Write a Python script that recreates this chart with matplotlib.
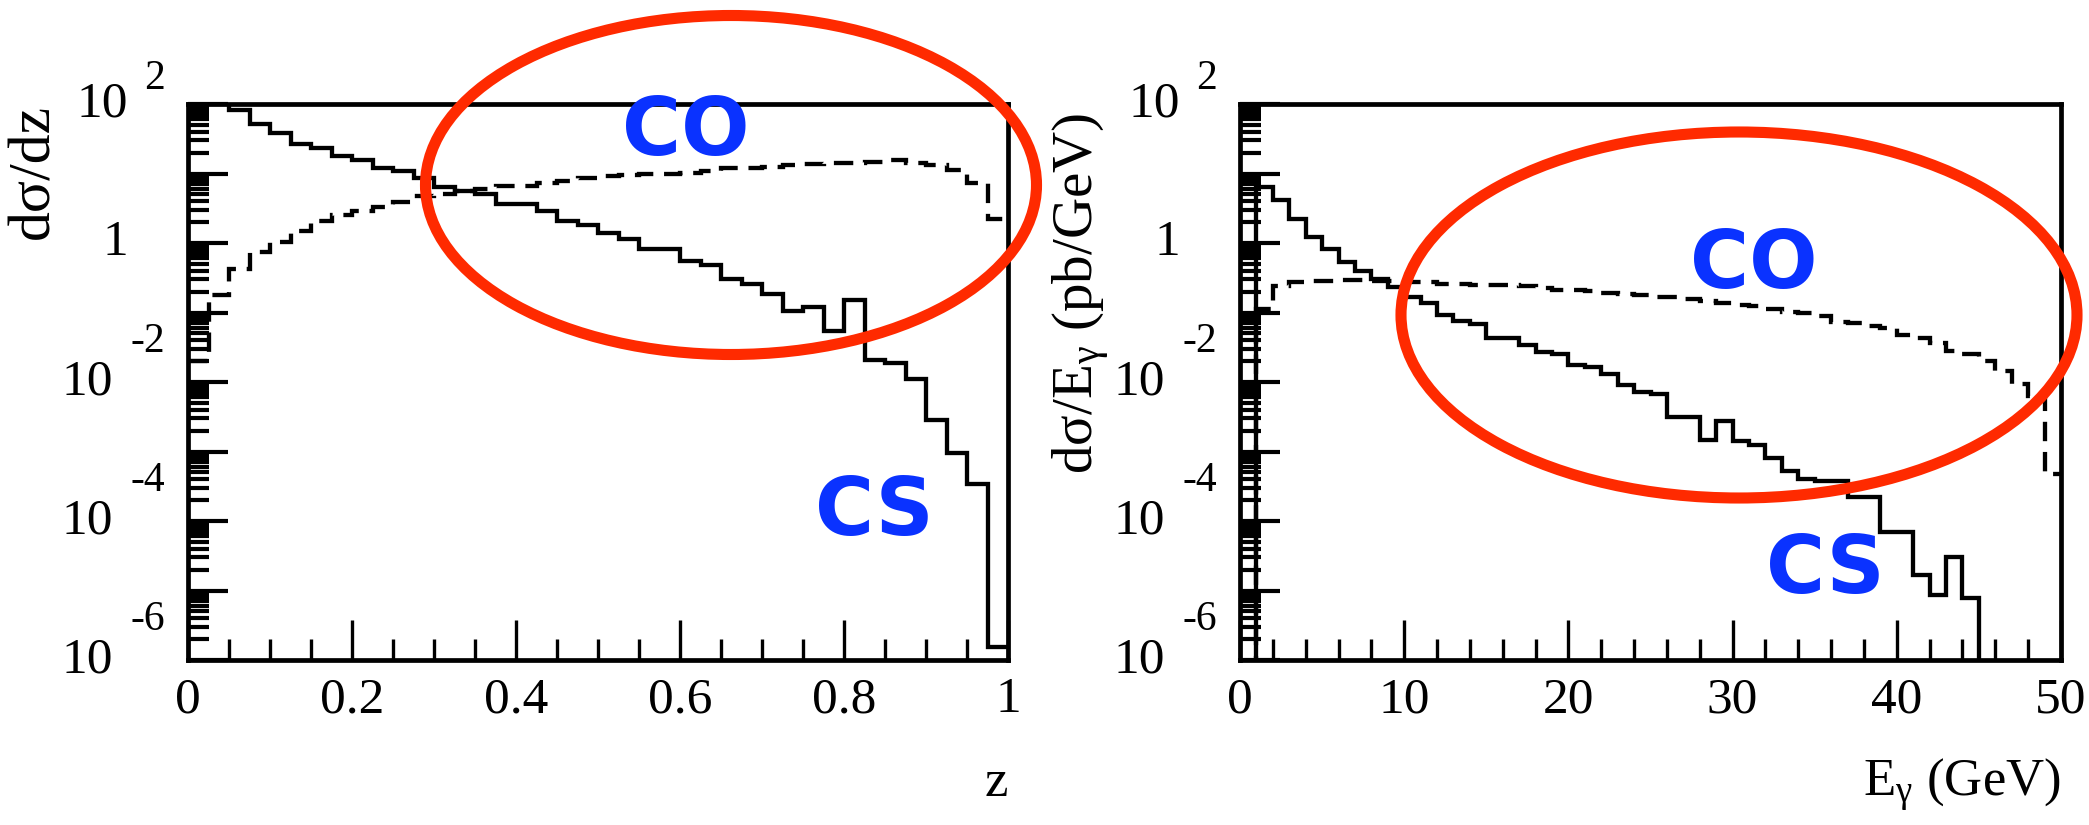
import numpy as np
import matplotlib
matplotlib.use("Agg")
import matplotlib.pyplot as plt
from matplotlib.patches import Ellipse
from matplotlib.ticker import LogLocator, MultipleLocator, NullFormatter, FixedLocator
from matplotlib.transforms import offset_copy

plt.rcParams['font.family'] = ['Liberation Serif', 'DejaVu Serif']
plt.rcParams['mathtext.fontset'] = 'custom'
plt.rcParams['mathtext.rm'] = 'Liberation Serif'
plt.rcParams['mathtext.it'] = 'Liberation Serif'

# left panel: d(sigma)/dz, 40 bins of 0.025 in z, values read as log10
z_edges = np.linspace(0, 1, 41)
cs_z = [2.3, 2.1, 1.92, 1.71, 1.585, 1.43, 1.36, 1.255, 1.19, 1.08,
        1.03, 0.935, 0.80, 0.75, 0.70, 0.555, 0.555, 0.46, 0.31, 0.255,
        0.14, 0.06, -0.085, -0.085, -0.26, -0.31, -0.525, -0.59, -0.74, -0.98,
        -0.92, -1.27, -0.82, -1.69, -1.73, -1.96, -2.55, -3.02, -3.47, -5.82]
co_z = [-1.7, -0.75, -0.37, -0.13, 0.02, 0.17, 0.32, 0.41, 0.46, 0.52,
        0.59, 0.67, 0.70, 0.75, 0.78, 0.82, 0.82, 0.86, 0.89, 0.94,
        0.96, 0.98, 0.99, 1.00, 1.01, 1.03, 1.075, 1.085, 1.095, 1.12,
        1.14, 1.15, 1.15, 1.165, 1.19, 1.15, 1.12, 1.05, 0.86, 0.35]

# right panel: d(sigma)/dE_gamma, 1 GeV bins, log10 values (nan = empty bin)
nan = np.nan
e_edges = np.arange(0, 51)
cs_e = [nan, 0.80, 0.62, 0.34, 0.09, -0.08, -0.27, -0.40, -0.52, -0.64,
        -0.77, -0.87, -1.04, -1.12, -1.17, -1.36, -1.36, -1.47, -1.57, -1.60,
        -1.76, -1.79, -1.89, -2.05, -2.15, -2.17, -2.51, -2.51, -2.83, -2.56,
        -2.85, -2.90, -3.09, -3.28, -3.39, -3.43, -3.43, -3.65, -3.65, -4.16,
        -4.16, -4.78, -5.07, -4.52, -5.11, nan, nan, nan, nan, nan]
co_e = [nan, -0.95, -0.62, -0.56, -0.55, -0.54, -0.53, -0.53, -0.55, -0.55,
        -0.56, -0.56, -0.59, -0.59, -0.60, -0.61, -0.61, -0.62, -0.65, -0.67,
        -0.68, -0.69, -0.72, -0.74, -0.75, -0.77, -0.78, -0.80, -0.83, -0.86,
        -0.89, -0.90, -0.95, -0.99, -1.01, -1.05, -1.13, -1.15, -1.20, -1.22,
        -1.33, -1.36, -1.44, -1.55, -1.60, -1.70, -1.84, -2.03, -2.20, -3.33]

z_ticks = [0, 0.2, 0.4, 0.6, 0.8, 1]
z_ticklabels = ['0', '0.2', '0.4', '0.6', '0.8', '1']
e_ticks = [0, 10, 20, 30, 40, 50]
y_exponents = [2, 0, -2, -4, -6]

RED = '#ff2a00'
BLUE = '#0a32ff'
W, H = 2089, 825


def to_values(logs):
	v = 10.0 ** np.array(logs, dtype=float)
	return np.nan_to_num(v, nan=1e-9)


def style_axis(ax, xlim, ticks, ticklabels, minor):
	ax.set_yscale('log')
	ax.set_ylim(1e-6, 1e2)
	ax.set_xlim(*xlim)
	ax.xaxis.set_major_locator(FixedLocator(ticks))
	ax.set_xticklabels(ticklabels)
	ax.xaxis.set_minor_locator(MultipleLocator(minor))
	ax.yaxis.set_major_locator(LogLocator(base=10, numticks=20))
	ax.yaxis.set_minor_locator(LogLocator(base=10, subs=np.arange(2, 10), numticks=200))
	ax.yaxis.set_major_formatter(NullFormatter())
	ax.yaxis.set_minor_formatter(NullFormatter())
	ax.tick_params(which='both', direction='in', top=False, right=False, width=3.0, color='k')
	ax.tick_params(which='major', length=29)
	ax.tick_params(which='minor', length=15)
	ax.tick_params(axis='x', which='both', width=2.4)
	ax.tick_params(axis='x', which='major', labelsize=37, pad=12)
	for s in ax.spines.values():
		s.set_linewidth(3.4)

	# ROOT-like log labels: "10" with a detached exponent
	tr = ax.get_yaxis_transform()
	for e in y_exponents:
		if e == 0:
			ax.text(0, 1, '1', transform=offset_copy(tr, fig, x=-60, units='dots'),
					ha='right', va='center', fontsize=37)
			continue
		up = 25 if e > 0 else 40
		shift = 60 if e > 0 else 75
		ax.text(0, 10.0 ** e, str(e), transform=offset_copy(tr, fig, x=-23, y=up, units='dots'),
				ha='right', va='center', fontsize=30)
		ax.text(0, 10.0 ** e, '10', transform=offset_copy(tr, fig, x=-shift, units='dots'),
				ha='right', va='center', fontsize=37)


def draw_hists(ax, edges, cs, co):
	ax.stairs(to_values(cs), edges, baseline=None, color='k', lw=3.1)
	ax.stairs(to_values(co), edges, baseline=None, color='k', lw=3.1, linestyle=(0, (4.5, 2.5)))


fig = plt.figure(figsize=(W / 100, H / 100), dpi=100)
ax1 = fig.add_axes([188 / W, 1 - 660 / H, 820 / W, 556 / H])
ax2 = fig.add_axes([1240 / W, 1 - 660 / H, 821 / W, 556 / H])

draw_hists(ax1, z_edges, cs_z, co_z)
draw_hists(ax2, e_edges, cs_e, co_e)

style_axis(ax1, (0, 1), z_ticks, z_ticklabels, 0.05)
style_axis(ax2, (0, 50), e_ticks, [str(t) for t in e_ticks], 2)

ax1.text(1.0, -0.2446, 'z', transform=ax1.transAxes, ha='right', va='baseline', fontsize=38)
ax2.text(1.0, -0.2446, r'E$_{\gamma}$ (GeV)', transform=ax2.transAxes, ha='right', va='baseline', fontsize=38)
ax1.text(-0.187, 1.0, 'dσ/dz', transform=ax1.transAxes, rotation=90, ha='center', va='top', fontsize=43)
ax2.text(-0.193, 0.985, r'dσ/E$_{\gamma}$ (pb/GeV)', transform=ax2.transAxes, rotation=90,
		 ha='center', va='top', fontsize=41)

# annotations
lab = dict(ha='center', va='center', fontsize=58, color=BLUE, fontweight='bold',
		   family='DejaVu Sans', zorder=6)
ax1.text(0.607, 0.948, 'CO', transform=ax1.transAxes, **lab)
ax1.text(0.837, 0.264, 'CS', transform=ax1.transAxes, **lab)
ax2.text(0.626, 0.709, 'CO', transform=ax2.transAxes, **lab)
ax2.text(0.7125, 0.160, 'CS', transform=ax2.transAxes, **lab)

fig.add_artist(Ellipse((731 / W, 1 - 185 / H), 611 / W, 339 / H, transform=fig.transFigure,
					   fill=False, ec=RED, lw=8, zorder=5))
fig.add_artist(Ellipse((1739 / W, 1 - 315 / H), 676 / W, 366 / H, transform=fig.transFigure,
					   fill=False, ec=RED, lw=8, zorder=5))

fig.savefig('out.png', dpi=100)
